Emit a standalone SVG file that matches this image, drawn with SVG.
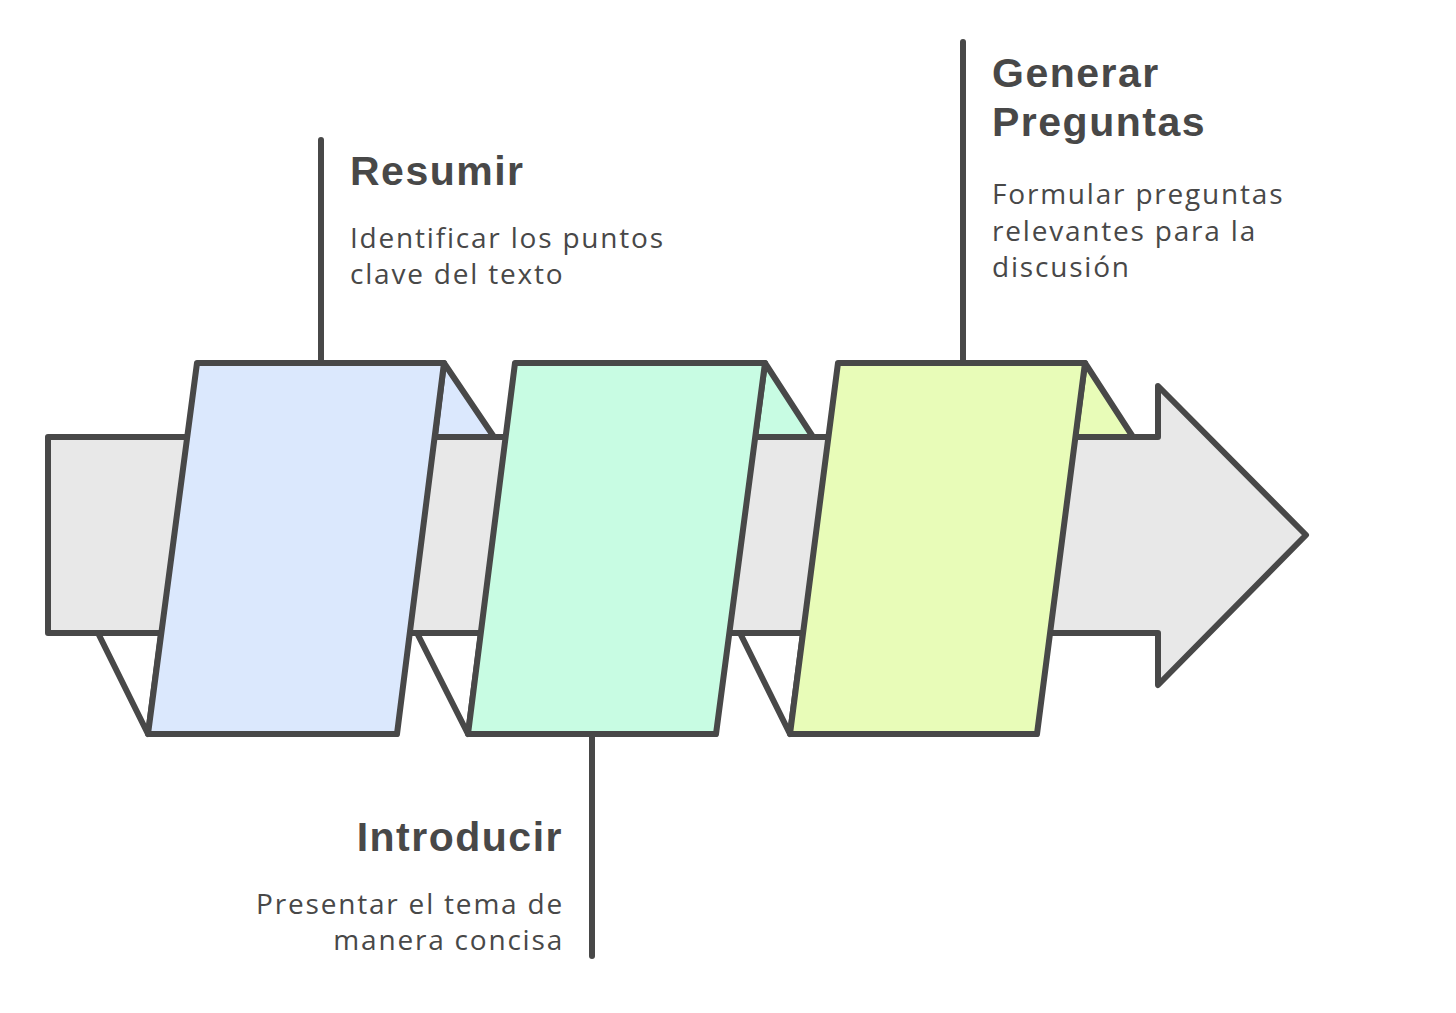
<svg xmlns="http://www.w3.org/2000/svg" width="1456" height="1013" viewBox="0 0 1456 1013">
<style>
.ln{fill:none;stroke:#484848;stroke-width:6;stroke-linecap:round;stroke-linejoin:round}
.sh{stroke:#484848;stroke-width:6;stroke-linecap:round;stroke-linejoin:round}
.t{font-family:"Liberation Sans","Open Sans",sans-serif;font-weight:700;font-size:41px;letter-spacing:1.5px;fill:#484848}
.d{font-family:"Open Sans","Noto Sans",sans-serif;font-size:28px;letter-spacing:1.8px;fill:#484848}
</style>
<rect width="1456" height="1013" fill="#ffffff"/>
<g id="band">
<polygon class="sh" fill="#e8e8e8" points="48,437 1158,437 1158,386 1306,535 1158,685 1158,633 48,633"/>
</g>
<g id="folds">
<polygon class="sh" fill="#dbe8fd" points="444,363 494,437 435,437"/>
<polygon class="sh" fill="#ffffff" points="98,633 148,734 161,633"/>
<polygon class="sh" fill="#c8fce3" points="765,363 813,437 755,437"/>
<polygon class="sh" fill="#ffffff" points="417,633 468,734 481,633"/>
<polygon class="sh" fill="#e8fcb8" points="1085,363 1133,437 1075,437"/>
<polygon class="sh" fill="#ffffff" points="740,633 790,734 803,633"/>
</g>
<g id="connectors">
<line class="ln" x1="321" y1="140" x2="321" y2="363"/>
<line class="ln" x1="592" y1="734" x2="592" y2="956"/>
<line class="ln" x1="963" y1="42" x2="963" y2="363"/>
</g>
<g id="resumir">
<polygon class="sh" fill="#dbe8fd" points="197,363 444,363 397,734 148,734"/>
<text class="t" x="350" y="185">Resumir</text>
<text class="d" x="350" y="248">Identificar los puntos</text>
<text class="d" x="350" y="284">clave del texto</text>
</g>
<g id="introducir">
<polygon class="sh" fill="#c8fce3" points="515,363 765,363 716,734 468,734"/>
<text class="t" x="563" y="851" text-anchor="end">Introducir</text>
<text class="d" x="564" y="914" text-anchor="end">Presentar el tema de</text>
<text class="d" x="564" y="950" text-anchor="end">manera concisa</text>
</g>
<g id="generar">
<polygon class="sh" fill="#e8fcb8" points="838,363 1085,363 1037,734 790,734"/>
<text class="t" x="992" y="87">Generar</text>
<text class="t" x="992" y="136">Preguntas</text>
<text class="d" x="992" y="204">Formular preguntas</text>
<text class="d" x="992" y="241">relevantes para la</text>
<text class="d" x="992" y="277">discusión</text>
</g>
</svg>
